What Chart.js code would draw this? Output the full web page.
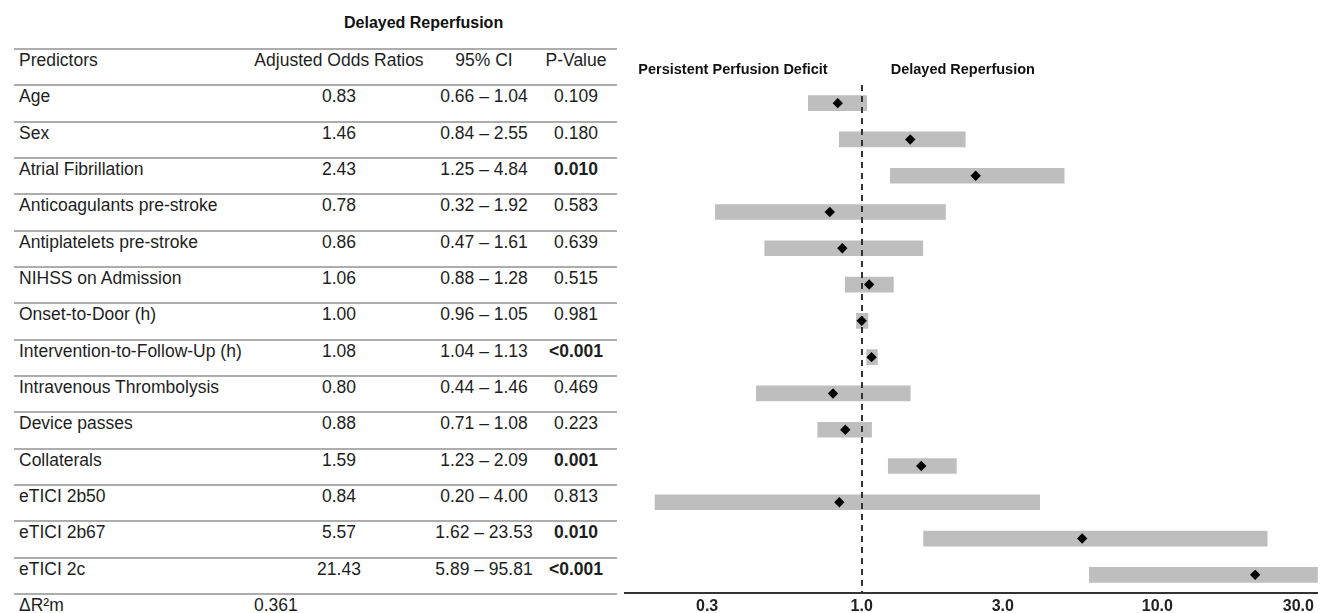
<!DOCTYPE html>
<html>
<head>
<meta charset="utf-8">
<script src="https://cdn.jsdelivr.net/npm/chart.js@4.4.1/dist/chart.umd.min.js"></script>
<style>
  html, body { margin: 0; padding: 0; background: #fff; }
  body { width: 1323px; height: 613px; position: relative; overflow: hidden;
         font-family: "Liberation Sans", Arial, sans-serif; color: #1e1e1e; }
  #table { position: absolute; left: 0; top: 0; width: 620px; height: 613px; }
  .line { position: absolute; left: 14px; width: 603px; height: 2px; background: #adadad; }
  .cell { position: absolute; font-size: 17.5px; line-height: 20px; white-space: nowrap; }
  .title { position: absolute; left: 344px; top: 13px; font-weight: bold; font-size: 16px;
           line-height: 20px; color: #111; white-space: nowrap; }
  #plot { position: absolute; left: 620px; top: 0; width: 703px; height: 613px; }
</style>
</head>
<body>
<div id="table"><div class="title">Delayed Reperfusion</div></div>
<div id="plot"><canvas id="forest-canvas" width="703" height="613"></canvas></div>
<script>
const predictors = ['Age', 'Sex', 'Atrial Fibrillation', 'Anticoagulants pre-stroke',
    'Antiplatelets pre-stroke', 'NIHSS on Admission', 'Onset-to-Door (h)',
    'Intervention-to-Follow-Up (h)', 'Intravenous Thrombolysis', 'Device passes',
    'Collaterals', 'eTICI 2b50', 'eTICI 2b67', 'eTICI 2c'];
const oddsRatios = [0.83, 1.46, 2.43, 0.78, 0.86, 1.06, 1.00, 1.08, 0.80, 0.88, 1.59, 0.84, 5.57, 21.43];
const ciLow  = [0.66, 0.84, 1.25, 0.32, 0.47, 0.88, 0.96, 1.04, 0.44, 0.71, 1.23, 0.20, 1.62, 5.89];
const ciHigh = [1.04, 2.55, 4.84, 1.92, 1.61, 1.28, 1.05, 1.13, 1.46, 1.08, 2.09, 4.00, 23.53, 95.81];
// bar ends as drawn in the plot (the Sex bar stops short of its printed CI)
const barLow  = [0.66, 0.84, 1.25, 0.32, 0.47, 0.88, 0.96, 1.04, 0.44, 0.71, 1.23, 0.20, 1.62, 5.89];
const barHigh = [1.04, 2.24, 4.84, 1.92, 1.61, 1.28, 1.05, 1.13, 1.46, 1.08, 2.09, 4.00, 23.53, 95.81];
const pValues = ['0.109', '0.180', '0.010', '0.583', '0.639', '0.515', '0.981', '<0.001',
    '0.469', '0.223', '0.001', '0.813', '0.010', '<0.001'];
const columnHeaders = ['Predictors', 'Adjusted Odds Ratios', '95% CI', 'P-Value'];
const r2Label = 'ΔR²m';
const r2Value = '0.361';
const tickValues = [0.3, 1, 3, 10, 30];
const leftSideLabel = 'Persistent Perfusion Deficit';
const rightSideLabel = 'Delayed Reperfusion';

// ---- table (plain html text) ----
const table = document.getElementById('table');
const rowTop0 = 49, rowH = 36.33;
// column boxes: [left, width, align]
const cols = [[19, 230, 'left'], [250, 178, 'center'], [430, 108, 'center'], [540, 72, 'center']];

function addLine(y) {
    const d = document.createElement('div');
    d.className = 'line';
    d.style.top = (y - 1) + 'px';
    table.appendChild(d);
}
function addCell(row, col, text, bold) {
    const d = document.createElement('div');
    d.className = 'cell';
    const c = cols[col];
    d.style.left = c[0] + 'px';
    d.style.width = c[1] + 'px';
    d.style.textAlign = c[2];
    d.style.top = (rowTop0 + row * rowH + 1) + 'px';
    if (bold) d.style.fontWeight = 'bold';
    d.textContent = text;
    table.appendChild(d);
}

for (let r = 0; r <= predictors.length + 1; r++) addLine(Math.round(rowTop0 + r * rowH));
columnHeaders.forEach((h, i) => addCell(0, i, h, false));
predictors.forEach((p, i) => {
    addCell(i + 1, 0, p, false);
    addCell(i + 1, 1, oddsRatios[i].toFixed(2), false);
    addCell(i + 1, 2, ciLow[i].toFixed(2) + ' – ' + ciHigh[i].toFixed(2), false);
    const pv = pValues[i];
    addCell(i + 1, 3, pv, pv.startsWith('<') || parseFloat(pv) < 0.05);
});
addCell(predictors.length + 1, 0, r2Label, false);
const r2 = document.createElement('div');
r2.className = 'cell';
r2.style.left = '254px';
r2.style.top = (rowTop0 + (predictors.length + 1) * rowH + 1) + 'px';
r2.textContent = r2Value;
table.appendChild(r2);

// ---- forest plot ----
const refLine = {
    id: 'refLine',
    afterDatasetDraw(chart, args) {
        if (args.index !== 1) return;
        const {ctx, chartArea, scales: {x}} = chart;
        const px = Math.round(x.getPixelForValue(1));
        ctx.save();
        ctx.beginPath();
        ctx.setLineDash([6, 5]);
        ctx.lineWidth = 2;
        ctx.strokeStyle = '#333';
        ctx.moveTo(px, chartArea.top);
        ctx.lineTo(px, chartArea.bottom);
        ctx.stroke();
        ctx.restore();
    },
    afterDraw(chart) {
        const {ctx, scales: {x}} = chart;
        const px = x.getPixelForValue(1);
        ctx.save();
        ctx.fillStyle = '#111';
        ctx.font = 'bold 14.5px "Liberation Sans", Arial, sans-serif';
        ctx.textBaseline = 'alphabetic';
        ctx.textAlign = 'right';
        ctx.fillText(leftSideLabel, px - 34, 74);
        ctx.textAlign = 'left';
        ctx.fillText(rightSideLabel, px + 29, 74);
        ctx.restore();
    }
};

const forest_config = {
    type: 'bar',
    data: {
        labels: predictors,
        datasets: [
            {
                type: 'line',
                label: 'Odds ratio',
                indexAxis: 'y',
                data: predictors.map((p, i) => ({x: oddsRatios[i], y: p})),
                showLine: false,
                pointStyle: 'rectRot',
                pointRadius: 5.2,
                pointHoverRadius: 5.2,
                pointBorderWidth: 0,
                backgroundColor: '#000',
                borderColor: '#000'
            },
            {
                label: '95% CI',
                data: barLow.map((lo, i) => [lo, barHigh[i]]),
                backgroundColor: '#bebebe',
                borderWidth: 0,
                barThickness: 15
            }
        ]
    },
    options: {
        indexAxis: 'y',
        responsive: false,
        animation: false,
        layout: {padding: {top: 85, left: 0, right: 0, bottom: 0}},
        plugins: {
            legend: {display: false},
            tooltip: {enabled: false}
        },
        scales: {
            x: {
                type: 'logarithmic',
                min: 0.1585,
                max: 34.9,
                afterBuildTicks: (scale) => { scale.ticks = tickValues.map(v => ({value: v})); },
                afterFit: (scale) => { scale.height = 20; },
                grid: {display: false, drawTicks: false},
                border: {display: true, color: '#333', width: 2},
                ticks: {
                    padding: 4,
                    autoSkip: false,
                    maxRotation: 0,
                    color: '#222',
                    font: {family: '"Liberation Sans", Arial, sans-serif', size: 16, weight: 'bold'},
                    callback: (v) => Number(v).toFixed(1)
                }
            },
            y: {display: false}
        }
    },
    plugins: [refLine]
};

const forest_ctx = document.getElementById('forest-canvas');
let forest_chart = new Chart(forest_ctx, forest_config);
</script>
</body>
</html>
